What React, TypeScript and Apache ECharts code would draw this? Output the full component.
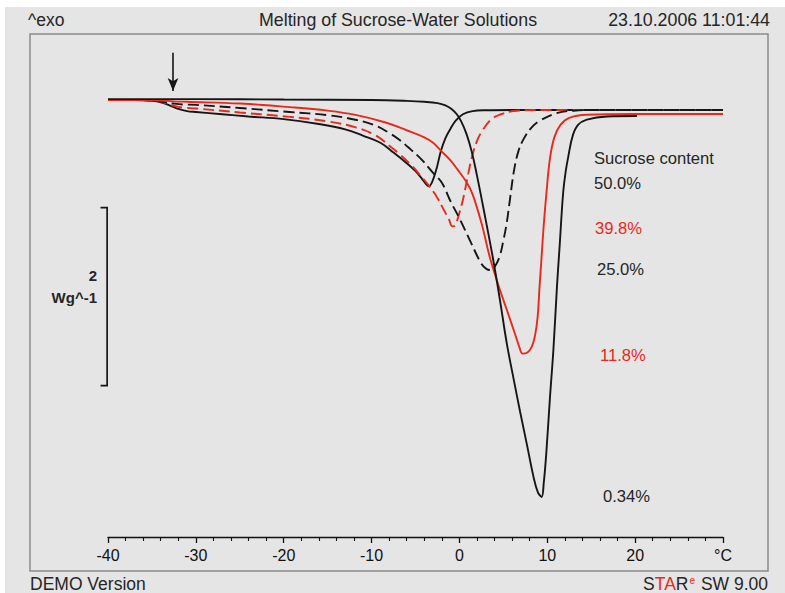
import React, { useEffect, useRef } from 'react';
import * as echarts from 'echarts';

// DSC melting curves of sucrose/water solutions: [temperature °C, heat flow W/g]
const sucrose500: [number, number][] = [
  [-40, 0.0], [-37, 0.0], [-35, -0.01], [-34, -0.025], [-33, -0.06], [-32, -0.1], [-31, -0.125],
  [-30, -0.135], [-27, -0.16], [-24, -0.185], [-20, -0.215], [-16, -0.27], [-13, -0.33], [-11, -0.4],
  [-9, -0.48], [-7.5, -0.59], [-6, -0.71], [-5, -0.8], [-4.3, -0.88], [-3.8, -0.945], [-3.5, -0.97],
  [-3.1, -0.92], [-2.6, -0.77], [-2.1, -0.57], [-1.6, -0.43], [-1.0, -0.32], [-0.4, -0.23],
  [0.4, -0.16], [1.5, -0.125], [3, -0.115], [6, -0.112], [30, -0.112],
];

const sucrose398: [number, number][] = [
  [-40, 0.0], [-36, 0.0], [-34.5, -0.01], [-33.5, -0.035], [-32.5, -0.065], [-31.5, -0.085],
  [-30, -0.095], [-25, -0.14], [-19.3, -0.19], [-15, -0.24], [-11.7, -0.31], [-9.5, -0.4],
  [-7.9, -0.52], [-6.8, -0.61], [-5.5, -0.73], [-4.5, -0.84], [-3.5, -0.96], [-2.5, -1.1],
  [-1.8, -1.23], [-1.2, -1.34], [-0.8, -1.42], [-0.5, -1.41], [-0.1, -1.3], [0.4, -1.12],
  [0.9, -0.88], [1.4, -0.65], [2.0, -0.46], [2.7, -0.33], [3.6, -0.22], [4.6, -0.165],
  [6.5, -0.12], [10, -0.112], [30, -0.112],
];

const sucrose250: [number, number][] = [
  [-40, 0.0], [-36, 0.0], [-34.5, -0.01], [-33.5, -0.025], [-32.5, -0.04], [-31.5, -0.05],
  [-30, -0.055], [-25, -0.09], [-19.3, -0.135], [-15, -0.17], [-11.7, -0.225], [-9.5, -0.29],
  [-8, -0.37], [-6.8, -0.45], [-5.5, -0.56], [-4.3, -0.67], [-3, -0.82], [-2, -0.93],
  [-1, -1.14], [0, -1.33], [1.3, -1.6], [2.5, -1.84], [3.1, -1.9], [3.6, -1.91], [4.1, -1.86],
  [4.6, -1.75], [5.0, -1.58], [5.4, -1.37], [5.8, -1.08], [6.2, -0.8], [6.7, -0.58], [7.3, -0.44],
  [8.2, -0.31], [9.2, -0.23], [11, -0.15], [13, -0.12], [16, -0.112], [30, -0.112],
];

const sucrose118: [number, number][] = [
  [-40, 0.0], [-36, 0.0], [-34, -0.005], [-32.5, -0.015], [-31, -0.02], [-25, -0.04],
  [-19.3, -0.08], [-15, -0.12], [-11.7, -0.17], [-8.5, -0.25], [-6, -0.34], [-4, -0.42],
  [-3, -0.48], [-2.2, -0.56], [-1, -0.68], [-0.3, -0.77], [0.85, -0.93], [1.5, -1.06],
  [2.5, -1.38], [3.5, -1.78], [4.6, -2.13], [5.4, -2.36], [6.3, -2.62], [6.8, -2.77], [7.2, -2.85],
  [7.7, -2.84], [8.2, -2.78], [8.6, -2.65], [8.9, -2.44], [9.1, -2.13], [9.4, -1.69], [9.6, -1.4],
  [9.9, -1.05], [10.3, -0.66], [10.8, -0.42], [11.5, -0.28], [12.5, -0.2], [14.5, -0.165],
  [20, -0.157], [30, -0.157],
];

const sucrose034: [number, number][] = [
  [-40, 0.01], [-30, 0.01], [-20, 0.005], [-10, 0.0], [-6, -0.01], [-4, -0.02], [-2.5, -0.035],
  [-1.6, -0.06], [-0.9, -0.1], [-0.3, -0.16], [0.2, -0.24], [0.8, -0.38], [1.4, -0.58], [2.0, -0.85],
  [2.7, -1.2], [3.8, -1.77], [4.6, -2.24], [5.4, -2.74], [6.2, -3.15], [6.9, -3.5], [7.7, -3.88],
  [8.4, -4.22], [8.9, -4.4], [9.35, -4.46], [9.6, -4.3], [9.9, -3.95], [10.3, -3.35], [10.7, -2.8],
  [11.1, -2.1], [11.4, -1.65], [11.8, -1.05], [12.1, -0.8], [12.4, -0.63], [12.9, -0.4],
  [13.5, -0.28], [14.5, -0.22], [16.8, -0.185], [20.2, -0.18],
];

// 2 W/g scale bar (drawn through the grid's own scale) and the glass-transition marker
const scaleBarTemp = -40.1;
const scaleBarCapTemp = -40.85;
const scaleBarTop = -1.21;
const scaleBarSpan = 2;
const arrowFrom: [number, number] = [-32.6, 0.53];
const arrowTo: [number, number] = [-32.6, 0.1];

const sampleLabels = ['50.0%', '39.8%', '25.0%', '11.8%', '0.34%'];
const headerTexts = ['^exo', 'Melting of Sucrose-Water Solutions', '23.10.2006 11:01:44'];
const scaleTexts = [String(scaleBarSpan), 'Wg^-1'];

const BLACK = '#161616';
const RED = '#e8291d';
const TEXT = '#262626';
const FONT = '"Liberation Sans", Arial, Helvetica, sans-serif';

function curve(data: [number, number][], color: string, dashed: boolean, z: number) {
  return {
    type: 'line',
    data,
    symbol: 'none',
    showSymbol: false,
    smooth: 0.4,
    silent: true,
    z,
    lineStyle: { color, width: 1.9, type: dashed ? [11, 5] : 'solid' },
  };
}

function text(x: number, y: number, t: string, align: string, size: number, fill = TEXT, weight = 'normal') {
  return {
    type: 'text',
    x,
    y,
    silent: true,
    style: {
      text: t,
      fill,
      font: `${weight} ${size}px ${FONT}`,
      textAlign: align,
      textVerticalAlign: 'middle',
    },
  };
}

export default function App() {
  const ref = useRef<HTMLDivElement>(null);

  useEffect(() => {
    if (!ref.current) return;
    const chart = echarts.init(ref.current, undefined, { renderer: 'svg' });
    chart.setOption({
      animation: false,
      backgroundColor: '#e4e5e4',
      grid: { left: 103, right: 62, top: 39.6, bottom: 56 },
      xAxis: {
        type: 'value',
        min: -40,
        max: 30,
        interval: 10,
        axisLine: { show: true, onZero: false, lineStyle: { color: '#111', width: 1.4 } },
        axisTick: { show: true, inside: false, length: 6, lineStyle: { color: '#111', width: 1.3 } },
        minorTick: { show: true, splitNumber: 5, length: 4, lineStyle: { color: '#111', width: 1.1 } },
        splitLine: { show: false },
        minorSplitLine: { show: false },
        axisLabel: {
          margin: 10,
          fontSize: 16,
          fontFamily: FONT,
          color: '#111',
          formatter: (v: number) => (v === 30 ? '°C' : String(v)),
        },
      },
      yAxis: { type: 'value', min: -4.91, max: 0.6, show: false },
      series: [
        curve(sucrose500, BLACK, false, 3),
        curve(sucrose398, RED, true, 4),
        curve(sucrose250, BLACK, true, 5),
        curve(sucrose118, RED, false, 6),
        {
          ...curve(sucrose034, BLACK, false, 7),
          markLine: {
            silent: true,
            symbol: ['none', 'arrow'],
            symbolSize: [8, 13],
            label: { show: false },
            lineStyle: { color: BLACK, width: 1.6, type: 'solid' },
            data: [[{ coord: arrowFrom }, { coord: arrowTo }]],
          },
        },
      ],
    });

    const px = (t: number, v: number) => chart.convertToPixel({ gridIndex: 0 }, [t, v]) as number[];
    const barTop = px(scaleBarTemp, scaleBarTop);
    const barBottom = px(scaleBarTemp, scaleBarTop - scaleBarSpan);
    const capTop = px(scaleBarCapTemp, scaleBarTop);
    const capBottom = px(scaleBarCapTemp, scaleBarTop - scaleBarSpan);

    chart.setOption({
      graphic: [
        {
          type: 'rect',
          silent: true,
          shape: { x: 25, y: 27, width: 738, height: 537 },
          style: { fill: 'none', stroke: '#8a8a8a', lineWidth: 1.5 },
        },
        {
          type: 'polyline',
          silent: true,
          shape: { points: [capTop, barTop, barBottom, capBottom] },
          style: { fill: 'none', stroke: BLACK, lineWidth: 1.7 },
        },
        text(23, 13, headerTexts[0], 'left', 17.5),
        text(393, 13, headerTexts[1], 'center', 17.8),
        text(765, 13, headerTexts[2], 'right', 17.8),
        text(25, 577, 'DEMO Version', 'left', 17.5),
        {
          type: 'text',
          x: 763,
          y: 577,
          silent: true,
          style: {
            text: '{b|S}{r|TA}{b|R}{s|e}{b| SW 9.00}',
            textAlign: 'right',
            textVerticalAlign: 'middle',
            rich: {
              b: { fill: TEXT, font: `17.5px ${FONT}` },
              r: { fill: RED, font: `17.5px ${FONT}` },
              s: { fill: RED, font: `10px ${FONT}`, verticalAlign: 'top', padding: [0, 1, 6, 1] },
            },
          },
        },
        text(92, 268, scaleTexts[0], 'right', 15, TEXT, 'bold'),
        text(92, 290, scaleTexts[1], 'right', 15, TEXT, 'bold'),
        text(589, 151, 'Sucrose content', 'left', 16.6),
        text(589, 176, sampleLabels[0], 'left', 16.6),
        text(590, 221, sampleLabels[1], 'left', 16.6, RED),
        text(592, 262, sampleLabels[2], 'left', 16.6),
        text(595, 348, sampleLabels[3], 'left', 16.6, RED),
        text(598, 489, sampleLabels[4], 'left', 16.6),
      ],
    });
    return () => chart.dispose();
  }, []);

  return (
    <div
      ref={ref}
      style={{ position: 'fixed', left: 5, top: 7, width: 780, height: 586 }}
    />
  );
}
